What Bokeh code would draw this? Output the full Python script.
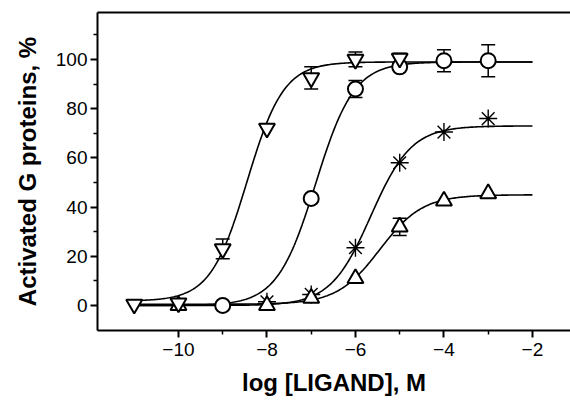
import numpy as np
from bokeh.plotting import figure
from bokeh.models import ColumnDataSource, Whisker, TeeHead, FixedTicker, LinearAxis, Range1d
from bokeh.embed import file_html
from bokeh.resources import INLINE

# ---- data ----
inv_x = [-11, -10, -9, -8, -7, -6, -5]
inv_y = [0.5, 1.0, 23.0, 72.0, 92.5, 100.0, 100.5]
inv_err = [0, 0, 4.0, 0, 4.5, 3.0, 2.0]

circ_x = [-9, -7, -6, -5, -4, -3]
circ_y = [0.0, 43.5, 88.0, 97.0, 99.5, 99.5]
circ_err = [0, 0, 3.5, 0, 4.5, 6.5]

ast_x = [-8, -7, -6, -5, -4, -3]
ast_y = [1.5, 4.5, 23.5, 58.0, 70.5, 76.0]

tri_x = [-10, -8, -7, -6, -5, -4, -3]
tri_y = [0.0, 0.0, 3.0, 11.0, 32.0, 42.5, 45.5]
tri_err = [0, 0, 0, 0, 3.5, 0, 0]

# fitted sigmoid parameters (inv. triangle, circle, asterisk, triangle)
fit_bottom = [1.8, 0.0, 0.0, 0.5]
fit_top = [99.0, 99.0, 73.0, 45.0]
fit_logec50 = [-8.45, -6.9, -5.65, -5.45]
fit_hill = [1.05, 1.0, 0.95, 0.9]
fit_from, fit_to = -11, -2

x_ticks = [-10, -8, -6, -4, -2]
x_tick_labels = ["\u221210", "\u22128", "\u22126", "\u22124", "\u22122"]
x_minor = [-9, -7, -5, -3]
y_ticks = [0, 20, 40, 60, 80, 100]
y_minor = [10, 30, 50, 70, 90, 110]

FONT = "Liberation Sans"

p = figure(width=570, height=400, output_backend="svg", toolbar_location=None,
           x_range=Range1d(-11.83, -1.14), y_range=Range1d(-10.16, 119.1),
           min_border_left=97, min_border_right=0, min_border_top=12, min_border_bottom=70)
p.grid.visible = False
p.outline_line_color = None
p.background_fill_color = "white"

# curves
xs = np.linspace(fit_from, fit_to, 300)
for b, t, e, h in zip(fit_bottom, fit_top, fit_logec50, fit_hill):
    ys = b + (t - b) / (1 + 10 ** (h * (e - xs)))
    p.line(xs, ys, line_color="black", line_width=1.6)

# error bars
def add_err(xv, yv, ev):
    xx, lo, hi = [], [], []
    for a, b, c in zip(xv, yv, ev):
        if c > 0:
            xx.append(a); lo.append(b - c); hi.append(b + c)
    src = ColumnDataSource(dict(x=xx, lo=lo, hi=hi))
    w = Whisker(source=src, base="x", lower="lo", upper="hi", line_color="black", line_width=1.5,
                upper_head=TeeHead(size=14, line_color="black", line_width=1.5),
                lower_head=TeeHead(size=14, line_color="black", line_width=1.5))
    p.add_layout(w)

add_err(inv_x, inv_y, inv_err)
add_err(circ_x, circ_y, circ_err)
add_err(tri_x, tri_y, tri_err)

# markers
p.scatter(ast_x, ast_y, marker="asterisk", size=18, line_color="black", line_width=1.4)
p.scatter(tri_x, tri_y, marker="triangle", size=16, fill_color="white", line_color="black", line_width=2)
p.scatter(circ_x, circ_y, marker="circle", size=15, fill_color="white", line_color="black", line_width=2)
p.scatter(inv_x, inv_y, marker="inverted_triangle", size=16, fill_color="white", line_color="black", line_width=2)

# axes styling
xa = p.xaxis[0]
xa.ticker = FixedTicker(ticks=x_ticks, minor_ticks=x_minor)
xa.major_label_overrides = {t: l for t, l in zip(x_ticks, x_tick_labels)}
xa.axis_label = "log [LIGAND], M"
ya = p.yaxis[0]
ya.ticker = FixedTicker(ticks=y_ticks, minor_ticks=y_minor)
ya.axis_label = "Activated G proteins, %"
for ax in (xa, ya):
    ax.axis_line_width = 2
    ax.axis_line_color = "black"
    ax.major_tick_line_width = 2
    ax.major_tick_line_color = "black"
    ax.minor_tick_line_width = 1.5
    ax.minor_tick_line_color = "black"
    ax.major_tick_out = 7
    ax.major_tick_in = 0
    ax.minor_tick_out = 4
    ax.minor_tick_in = 0
    ax.major_label_text_font = FONT
    ax.major_label_text_font_size = "19px"
    ax.major_label_text_color = "black"
    ax.axis_label_text_font = FONT
    ax.axis_label_text_font_size = "24px"
    ax.axis_label_text_font_style = "bold"
    ax.axis_label_text_color = "black"
xa.major_label_standoff = 5
xa.axis_label_standoff = 10
ya.major_label_standoff = 3
ya.axis_label_standoff = 12

# top frame line
top = LinearAxis(ticker=FixedTicker(ticks=[]), axis_line_width=2, axis_line_color="black",
                 major_tick_line_color=None, minor_tick_line_color=None,
                 major_label_text_font_size="0px")
p.add_layout(top, "above")

open("out.html", "w").write(file_html(p, INLINE))
